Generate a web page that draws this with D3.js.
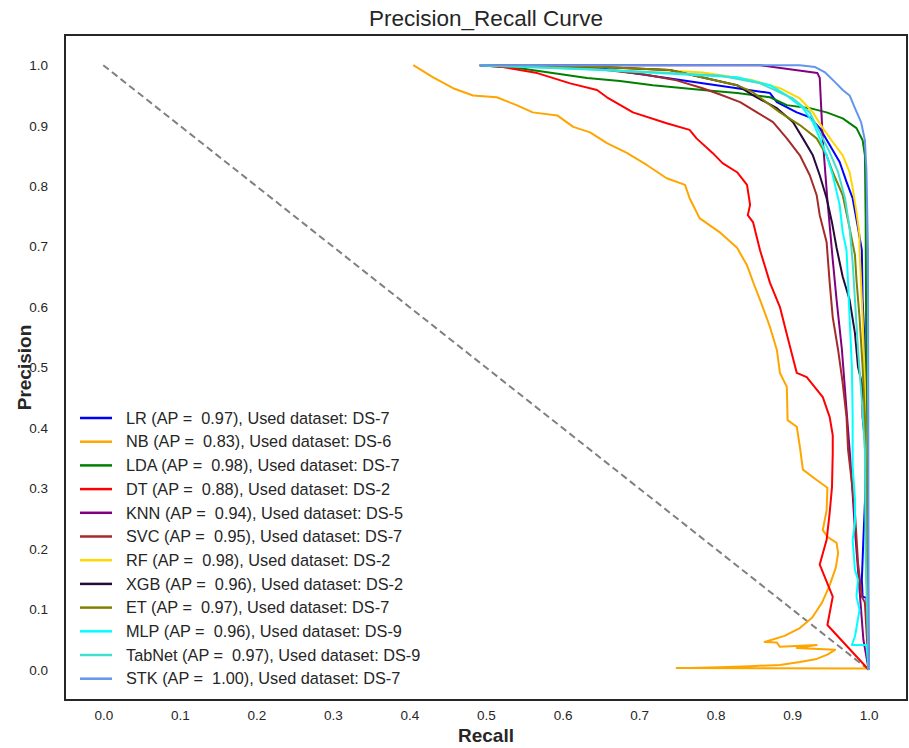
<!DOCTYPE html>
<html>
<head>
<meta charset="utf-8">
<script src="https://cdn.jsdelivr.net/npm/d3@7"></script>
<style>
  body { margin: 0; background: #fff; }
  text { font-family: "Liberation Sans", Arial, sans-serif; fill: #262626; }
</style>
</head>
<body>
<script>
// Models, scores and datasets shown in the legend
const models = ['LR', 'NB', 'LDA', 'DT', 'KNN', 'SVC', 'RF', 'XGB', 'ET', 'MLP', 'TabNet', 'STK'];
const apScores = ['0.97', '0.83', '0.98', '0.88', '0.94', '0.95', '0.98', '0.96', '0.97', '0.96', '0.97', '1.00'];
const datasets = ['DS-7', 'DS-6', 'DS-7', 'DS-2', 'DS-5', 'DS-7', 'DS-2', 'DS-2', 'DS-7', 'DS-9', 'DS-9', 'DS-7'];
const xTicks = [0.0, 0.1, 0.2, 0.3, 0.4, 0.5, 0.6, 0.7, 0.8, 0.9, 1.0];
const yTicks = [0.0, 0.1, 0.2, 0.3, 0.4, 0.5, 0.6, 0.7, 0.8, 0.9, 1.0];

// [recall, precision] points
const lrPoints = [[0.492,1.0],[0.649,0.995],[0.783,0.970],[0.828,0.962],[0.871,0.954],[0.880,0.939],[0.906,0.922],[0.923,0.914],[0.936,0.896],[0.949,0.868],[0.962,0.840],[0.971,0.807],[0.979,0.780],[0.986,0.731],[0.991,0.694],[0.992,0.612],[0.995,0.529],[0.997,0.418],[0.997,0.336],[0.993,0.215],[0.991,0.149],[0.992,0.121],[0.997,0.119],[1.0,0.0]];
const nbPoints = [[0.405,1.0],[0.431,0.980],[0.457,0.962],[0.483,0.950],[0.514,0.947],[0.540,0.934],[0.561,0.922],[0.593,0.917],[0.614,0.898],[0.636,0.889],[0.658,0.871],[0.684,0.855],[0.710,0.835],[0.736,0.813],[0.760,0.802],[0.766,0.780],[0.779,0.747],[0.805,0.724],[0.828,0.698],[0.841,0.669],[0.849,0.641],[0.858,0.612],[0.871,0.567],[0.880,0.529],[0.884,0.491],[0.893,0.468],[0.894,0.413],[0.906,0.402],[0.910,0.369],[0.914,0.331],[0.932,0.314],[0.946,0.301],[0.945,0.264],[0.940,0.231],[0.946,0.220],[0.958,0.210],[0.960,0.193],[0.957,0.169],[0.949,0.140],[0.939,0.111],[0.926,0.086],[0.910,0.069],[0.890,0.056],[0.864,0.046],[0.880,0.045],[0.884,0.038],[0.932,0.041],[0.906,0.036],[0.956,0.033],[0.946,0.025],[0.932,0.018],[0.910,0.013],[0.884,0.008],[0.845,0.006],[0.805,0.004],[0.766,0.003],[0.749,0.003],[1.0,0.002]];
const ldaPoints = [[0.492,1.0],[0.544,0.995],[0.587,0.987],[0.632,0.979],[0.675,0.974],[0.718,0.967],[0.783,0.959],[0.828,0.954],[0.871,0.947],[0.893,0.934],[0.923,0.929],[0.945,0.922],[0.966,0.912],[0.984,0.896],[0.992,0.876],[0.995,0.851],[0.996,0.744],[0.997,0.446],[1.0,0.0]];
const dtPoints = [[0.492,1.0],[0.522,0.997],[0.567,0.987],[0.610,0.970],[0.645,0.959],[0.658,0.947],[0.692,0.922],[0.736,0.904],[0.766,0.893],[0.775,0.879],[0.796,0.855],[0.809,0.838],[0.828,0.823],[0.841,0.802],[0.845,0.769],[0.842,0.752],[0.849,0.740],[0.858,0.694],[0.871,0.640],[0.884,0.600],[0.894,0.550],[0.906,0.491],[0.919,0.484],[0.940,0.451],[0.949,0.418],[0.953,0.388],[0.953,0.359],[0.952,0.302],[0.949,0.260],[0.945,0.215],[0.936,0.174],[0.953,0.121],[0.946,0.074],[1.0,0.0]];
const knnPoints = [[0.492,1.0],[0.858,1.0],[0.933,0.987],[0.936,0.979],[0.940,0.876],[0.946,0.777],[0.953,0.678],[0.958,0.612],[0.965,0.529],[0.971,0.430],[0.977,0.331],[0.982,0.231],[0.988,0.132],[0.993,0.050],[1.0,0.0]];
const svcPoints = [[0.492,1.0],[0.623,0.997],[0.705,0.985],[0.749,0.975],[0.783,0.962],[0.805,0.952],[0.832,0.939],[0.854,0.922],[0.875,0.906],[0.893,0.879],[0.910,0.851],[0.923,0.818],[0.932,0.785],[0.936,0.752],[0.945,0.707],[0.949,0.640],[0.953,0.583],[0.960,0.529],[0.966,0.474],[0.971,0.418],[0.973,0.364],[0.978,0.309],[0.982,0.260],[0.986,0.177],[0.991,0.121],[0.995,0.111],[1.0,0.0]];
const rfPoints = [[0.492,1.0],[0.649,0.998],[0.783,0.988],[0.849,0.975],[0.884,0.962],[0.910,0.945],[0.927,0.922],[0.940,0.896],[0.953,0.873],[0.966,0.851],[0.975,0.823],[0.979,0.797],[0.984,0.757],[0.988,0.719],[0.988,0.694],[0.992,0.583],[0.995,0.474],[0.996,0.364],[0.997,0.198],[1.0,0.0]];
const xgbPoints = [[0.492,1.0],[0.649,0.997],[0.740,0.992],[0.828,0.967],[0.849,0.950],[0.880,0.929],[0.901,0.906],[0.914,0.879],[0.927,0.851],[0.936,0.818],[0.945,0.780],[0.952,0.740],[0.958,0.698],[0.966,0.650],[0.975,0.612],[0.982,0.557],[0.986,0.501],[0.991,0.474],[0.992,0.418],[0.995,0.380],[0.996,0.248],[1.0,0.0]];
const etPoints = [[0.492,1.0],[0.649,0.997],[0.740,0.992],[0.828,0.967],[0.849,0.955],[0.884,0.922],[0.910,0.901],[0.932,0.879],[0.945,0.851],[0.953,0.823],[0.966,0.785],[0.975,0.731],[0.982,0.686],[0.984,0.645],[0.988,0.583],[0.992,0.501],[0.995,0.418],[0.996,0.336],[0.997,0.182],[1.0,0.0]];
const mlpPoints = [[0.492,1.0],[0.649,0.992],[0.828,0.980],[0.871,0.967],[0.893,0.950],[0.914,0.929],[0.927,0.906],[0.936,0.879],[0.945,0.851],[0.953,0.818],[0.962,0.769],[0.966,0.724],[0.971,0.694],[0.973,0.640],[0.975,0.583],[0.978,0.501],[0.979,0.418],[0.979,0.336],[0.982,0.281],[0.982,0.243],[0.979,0.215],[0.982,0.165],[0.986,0.149],[0.984,0.121],[0.988,0.099],[0.982,0.055],[0.978,0.041],[0.997,0.041],[1.0,0.0]];
const tabnetPoints = [[0.492,1.0],[0.649,0.993],[0.805,0.983],[0.858,0.970],[0.901,0.945],[0.923,0.922],[0.936,0.889],[0.949,0.856],[0.960,0.823],[0.969,0.780],[0.975,0.731],[0.979,0.674],[0.982,0.612],[0.986,0.529],[0.991,0.446],[0.995,0.364],[0.996,0.182],[1.0,0.0]];
const stkPoints = [[0.492,1.0],[0.910,1.0],[0.930,0.997],[0.943,0.988],[0.956,0.972],[0.966,0.959],[0.975,0.950],[0.982,0.929],[0.990,0.906],[0.995,0.876],[0.997,0.826],[0.999,0.694],[1.0,0.0]];

const allPoints = [lrPoints, nbPoints, ldaPoints, dtPoints, knnPoints, svcPoints, rfPoints, xgbPoints, etPoints, mlpPoints, tabnetPoints, stkPoints];
const colors = ['#0000ff', '#ffa500', '#008000', '#ff0000', '#800080', '#a52a2a', '#ffd700', '#250a3a', '#808000', '#00ffff', '#40e0d0', '#6495ed'];

// Set up the SVG
const width = 909, height = 748;
const margin = { top: 35, right: 2, bottom: 48, left: 65 };

const svg = d3.select('body')
  .append('svg')
  .attr('width', width)
  .attr('height', height);

svg.append('rect').attr('width', width).attr('height', height).attr('fill', '#fff');

// Scales with the usual 5% padding
const xScale = d3.scaleLinear()
  .domain([-0.05, 1.05])
  .range([margin.left, width - margin.right]);

const yScale = d3.scaleLinear()
  .domain([-0.05, 1.05])
  .range([height - margin.bottom, margin.top]);

// Axes (no tick marks, only labels)
const xAxis = svg.append('g')
  .attr('transform', `translate(0, ${height - margin.bottom})`)
  .call(d3.axisBottom(xScale).tickValues(xTicks).tickFormat(d3.format('.1f')).tickSize(0).tickPadding(10));

const yAxis = svg.append('g')
  .attr('transform', `translate(${margin.left}, 0)`)
  .call(d3.axisLeft(yScale).tickValues(yTicks).tickFormat(d3.format('.1f')).tickSize(0).tickPadding(17));

[xAxis, yAxis].forEach((ax) => {
  ax.select('.domain').remove();
  ax.selectAll('text').attr('font-size', 13.5).attr('fill', '#3a3a3a');
});

// Chance line
svg.append('line')
  .attr('x1', xScale(0)).attr('y1', yScale(1))
  .attr('x2', xScale(1)).attr('y2', yScale(0))
  .attr('stroke', '#808080')
  .attr('stroke-width', 2)
  .attr('stroke-dasharray', '7,4');

// Curves
const line = d3.line()
  .x((d) => xScale(d[0]))
  .y((d) => yScale(d[1]));

svg.append('g')
  .selectAll('path')
  .data(allPoints)
  .enter()
  .append('path')
  .attr('d', line)
  .attr('fill', 'none')
  .attr('stroke', (d, i) => colors[i])
  .attr('stroke-width', 2)
  .attr('stroke-linejoin', 'round');

// Frame
svg.append('rect')
  .attr('x', margin.left)
  .attr('y', margin.top)
  .attr('width', width - margin.left - margin.right)
  .attr('height', height - margin.top - margin.bottom)
  .attr('fill', 'none')
  .attr('stroke', '#262626')
  .attr('stroke-width', 2);

// Legend
const legend = svg.append('g').attr('transform', 'translate(80, 418)');
const rows = legend.selectAll('g')
  .data(models)
  .enter()
  .append('g')
  .attr('transform', (d, i) => `translate(0, ${i * 23.7})`);

rows.append('line')
  .attr('x1', 0).attr('x2', 32)
  .attr('stroke', (d, i) => colors[i])
  .attr('stroke-width', 2.5);

rows.append('text')
  .attr('x', 46)
  .attr('dy', '0.35em')
  .attr('font-size', 16.3)
  .style('white-space', 'pre')
  .text((d, i) => `${d} (AP =  ${apScores[i]}), Used dataset: ${datasets[i]}`);

// Title and axis labels
svg.append('text')
  .attr('x', (margin.left + width - margin.right) / 2)
  .attr('y', 26)
  .attr('text-anchor', 'middle')
  .attr('font-size', 22.5)
  .text('Precision_Recall Curve');

svg.append('text')
  .attr('x', (margin.left + width - margin.right) / 2)
  .attr('y', 742)
  .attr('text-anchor', 'middle')
  .attr('font-size', 19)
  .attr('font-weight', 'bold')
  .text('Recall');

svg.append('text')
  .attr('transform', `translate(31, ${(margin.top + height - margin.bottom) / 2}) rotate(-90)`)
  .attr('text-anchor', 'middle')
  .attr('font-size', 19)
  .attr('font-weight', 'bold')
  .text('Precision');
</script>
</body>
</html>
